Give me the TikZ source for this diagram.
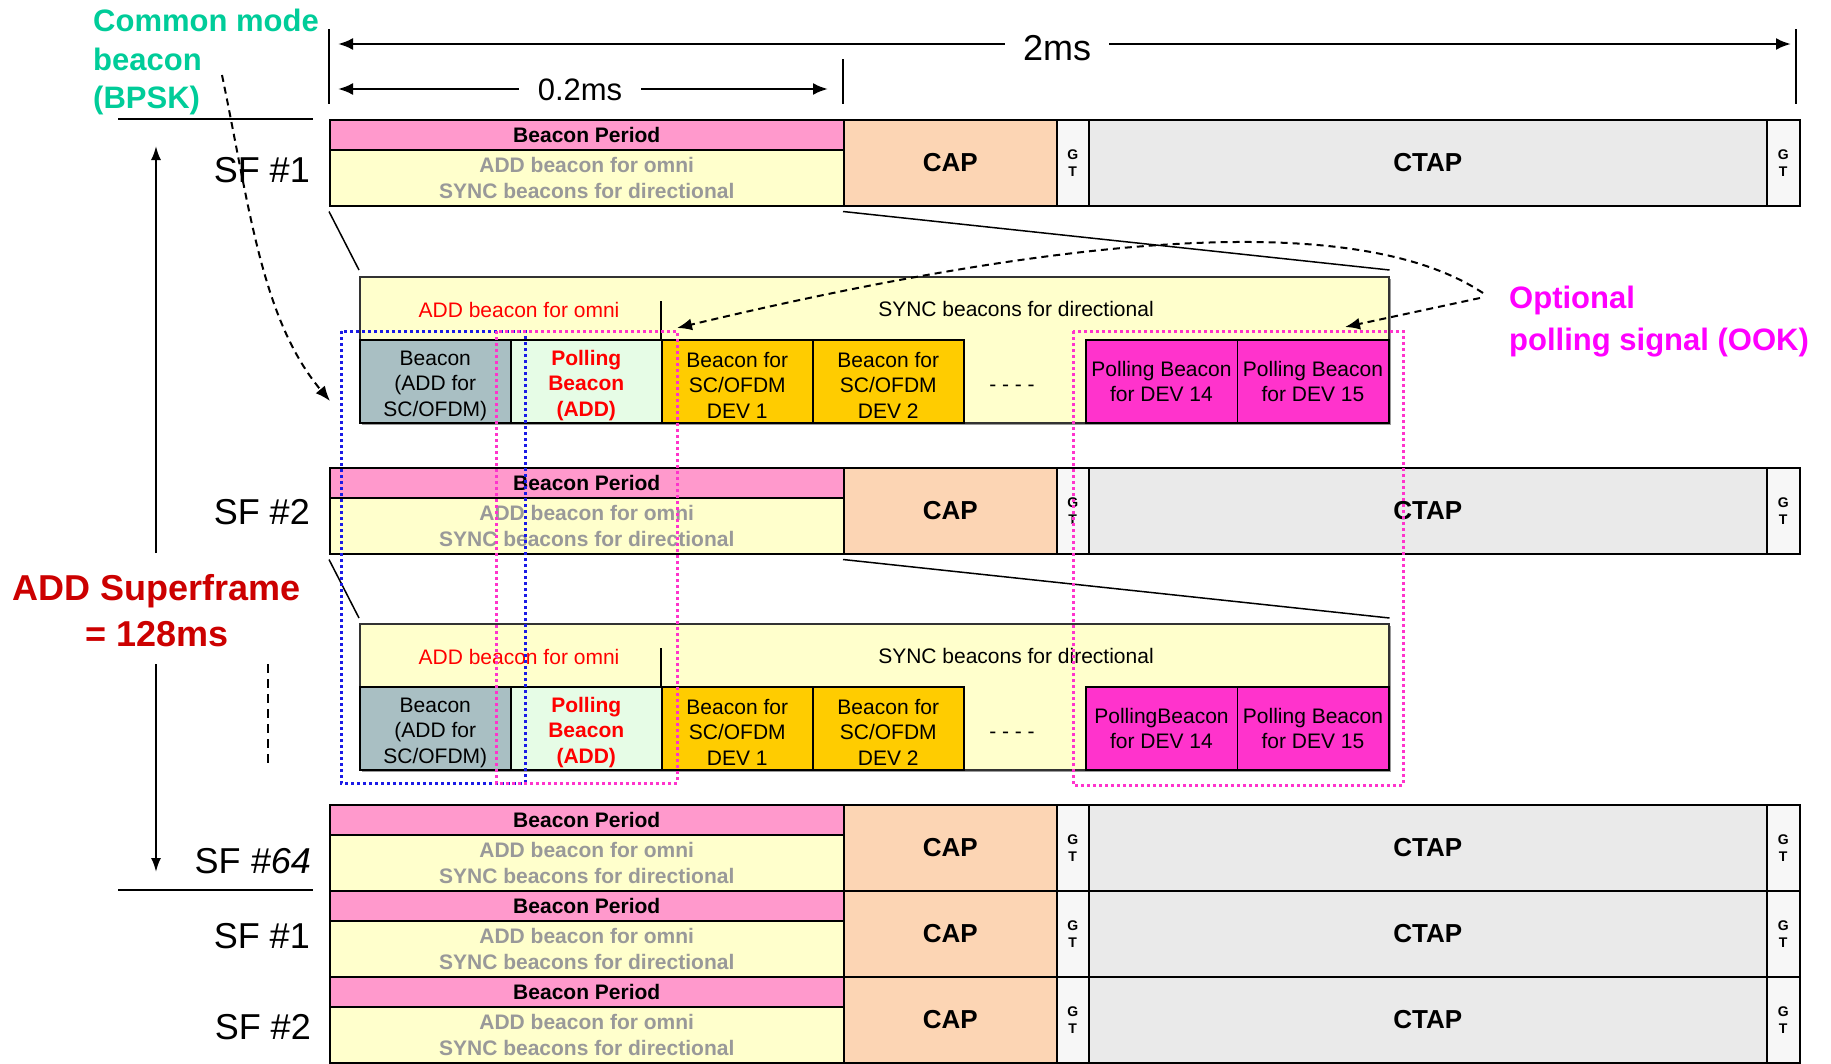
\documentclass[tikz,border=0pt]{standalone}
\usepackage{fontspec}
\setmainfont{Liberation Sans}
\usetikzlibrary{arrows.meta}

\definecolor{bppink}{HTML}{FF99CC}
\definecolor{bpyellow}{HTML}{FFFFCC}
\definecolor{cappeach}{HTML}{FCD5B4}
\definecolor{gtwhite}{HTML}{F7F7F7}
\definecolor{ctapgray}{HTML}{EAEAEA}
\definecolor{txtgray}{HTML}{999999}
\definecolor{addgray}{HTML}{A9BFC3}
\definecolor{pollgreen}{HTML}{E6FCE6}
\definecolor{devorange}{HTML}{FFCC00}
\definecolor{devmagenta}{HTML}{FF33CC}
\definecolor{addred}{HTML}{FF0000}
\definecolor{cmteal}{HTML}{00CC99}
\definecolor{sfred}{HTML}{CC0000}
\definecolor{optmagenta}{HTML}{FF00FF}
\definecolor{shadowgray}{HTML}{999999}
\definecolor{dotblue}{HTML}{1A1AE6}
\definecolor{dotpink}{HTML}{FF33CC}

% pushes a three-line cell text a little down
\newcommand\lowstrut{\rule{0pt}{23pt}}

\tikzset{
  slot/.style={draw=black, line width=1.5pt, anchor=north west, inner sep=0pt, align=center},
  subbox/.style={draw=black!80, line width=1.5pt, fill=bpyellow, anchor=north west, inner sep=0pt},
  bold21/.style={font=\fontsize{21}{25.5}\selectfont\bfseries},
  reg21/.style={font=\fontsize{21}{25.5}\selectfont},
  bold26/.style={font=\fontsize{26}{30}\selectfont\bfseries},
  gtfont/.style={font=\fontsize{14}{17}\selectfont\bfseries},
  sffont/.style={font=\fontsize{36}{40}\selectfont, anchor=east, inner sep=0pt},
  dimarrow/.style={line width=2.5pt, -{Latex[length=15pt,width=12pt]}},
  sfarrow/.style={line width=2pt, -{Latex[length=14pt,width=10pt]}},
  dasharrow/.style={line width=2pt, dash pattern=on 7pt off 5pt, -{Latex[length=15pt,width=12pt]}},
  bluedot/.style={draw=dotblue, line width=3pt, dash pattern=on 3pt off 3pt},
  pinkdot/.style={draw=dotpink, line width=3pt, dash pattern=on 3pt off 3pt}
}

\begin{document}
\begin{tikzpicture}[x=1pt, y=-1pt]
  \useasboundingbox (0,0) rectangle (1831,1063);
  % superframe rows
  \foreach \rowy/\n in {119/1,467/2,804/3,890/4,976/5} {
    \node[slot, fill=bppink, minimum width=514pt, minimum height=30pt, bold21] (bp\n) at (329,\rowy) {Beacon Period};
    \node[slot, fill=bpyellow, minimum width=514pt, minimum height=56pt, bold21, text=txtgray] (bpy\n) at (329,\rowy+30) {ADD beacon for omni\\SYNC beacons for directional};
    \node[slot, fill=cappeach, minimum width=213pt, minimum height=86pt, bold26] (cap\n) at (843,\rowy) {CAP};
    \node[slot, fill=gtwhite, minimum width=32pt, minimum height=86pt, gtfont] (gta\n) at (1056,\rowy) {G\\T};
    \node[slot, fill=ctapgray, minimum width=678pt, minimum height=86pt, bold26] (ctap\n) at (1088,\rowy) {CTAP};
    \node[slot, fill=gtwhite, minimum width=33pt, minimum height=86pt, gtfont] (gtb\n) at (1766,\rowy) {G\\T};
  }
  % row labels
  \node[sffont] (sf1) at (310,170) {SF \#1};
  \node[sffont] (sf2) at (310,512) {SF \#2};
  \node[sffont] (sf64) at (311,861) {SF \textit{\#64}};
  \node[sffont] (sf1b) at (310,936) {SF \#1};
  \node[sffont] (sf2b) at (311,1027) {SF \#2};
  % expanded beacon periods
  \foreach \n/\rowy/\p in {1/276/{Polling Beacon},2/623/{PollingBeacon}} {
    \fill[shadowgray] (362,\rowy+3) rectangle (1391,\rowy+149);
    \node[subbox, minimum width=1029pt, minimum height=146pt] (sub\n) at (359,\rowy) {};
    \node[reg21, text=addred] (omni\n) at (519,\rowy+34) {ADD beacon for omni};
    \node[reg21] (sync\n) at (1016,\rowy+33) {SYNC beacons for directional};
    \node[slot, fill=addgray, minimum width=151pt, minimum height=83pt, reg21] (cmb\n) at (359,\rowy+63) {\lowstrut Beacon\\(ADD for\\SC/OFDM)};
    \node[slot, fill=pollgreen, minimum width=151pt, minimum height=83pt, bold21, text=addred] (poll\n) at (510,\rowy+63) {\lowstrut Polling\\Beacon\\(ADD)};
    \node[slot, fill=devorange, minimum width=151pt, minimum height=83pt, reg21] (deva\n) at (661,\rowy+63) {\lowstrut Beacon for\\SC/OFDM\\DEV 1};
    \node[slot, fill=devorange, minimum width=151pt, minimum height=83pt, reg21] (devb\n) at (812,\rowy+63) {\lowstrut Beacon for\\SC/OFDM\\DEV 2};
    \node[reg21] (gap\n) at (1012,\rowy+112) {- - - -};
    \node[slot, fill=devmagenta, minimum width=151.5pt, minimum height=83pt, reg21] (devn\n) at (1085,\rowy+63) {\p\\for DEV 14};
    \node[slot, fill=devmagenta, minimum width=151.5pt, minimum height=83pt, reg21] (devo\n) at (1236.5,\rowy+63) {Polling Beacon\\for DEV 15};
    \draw[line width=1.5pt] (deva\n.north west) -- ++(0,-38);
  }
  \draw[line width=1.5pt] ([yshift=-5pt]bpy1.south west) -- ([yshift=6pt]sub1.north west);
  \draw[line width=1.5pt] ([yshift=-5pt]cap1.south west) -- ([yshift=6pt]sub1.north east);
  \draw[line width=1.5pt] ([yshift=-5pt]bpy2.south west) -- ([yshift=5pt]sub2.north west);
  \draw[line width=1.5pt] ([yshift=-5pt]cap2.south west) -- ([yshift=5pt]sub2.north east);
  % dotted groups
  \draw[bluedot] (341,331) rectangle (525,783);
  \draw[pinkdot] (496,331) rectangle (677,783);
  \draw[pinkdot] (1073,331) rectangle (1403,785);
  % durations
  \draw[line width=1.5pt] (329,29) -- (329,104);
  \draw[line width=1.5pt] (1796,29) -- (1796,104);
  \draw[line width=1.5pt] (843,59) -- (843,104);
  \node[font=\fontsize{36}{40}\selectfont, inner xsep=18pt] (twoms) at (1057,48) {2ms};
  \coordinate (twoL) at (338,44);
  \coordinate (twoR) at (1791,44);
  \draw[dimarrow] (twoms.west |- twoL) -- (twoL);
  \draw[dimarrow] (twoms.east |- twoR) -- (twoR);
  \node[font=\fontsize{31}{36}\selectfont, inner xsep=19pt] (ptwoms) at (580,90) {0.2ms};
  \coordinate (ptwoL) at (338,89);
  \coordinate (ptwoR) at (828,89);
  \draw[dimarrow] (ptwoms.west |- ptwoL) -- (ptwoL);
  \draw[dimarrow] (ptwoms.east |- ptwoR) -- (ptwoR);
  % superframe span
  \draw[line width=2pt] (118,119) -- (313,119);
  \draw[line width=2pt] (118,890) -- (313,890);
  \node[font=\fontsize{36}{46}\selectfont\bfseries, text=sfred, align=center] (adds) at (157,611) {ADD Superframe\\= 128ms};
  \coordinate (upbase) at (156,553);
  \coordinate (uptip) at (156,146);
  \coordinate (downbase) at (156,664);
  \coordinate (downtip) at (156,872);
  \draw[sfarrow] (upbase) -- (uptip);
  \draw[sfarrow] (downbase) -- (downtip);
  \draw[line width=2pt, dash pattern=on 9pt off 6pt] (268,664) -- (268,768);
  % callouts
  \node[font=\fontsize{31}{38.5}\selectfont\bfseries, text=cmteal, align=left, anchor=west, inner sep=0pt] (cmlabel) at (93,62) {Common mode\\beacon\\(BPSK)};
  \coordinate (cmstart) at (222,75);
  \coordinate (cmend) at (330,401);
  \draw[dasharrow] (cmstart) .. controls (250,210) and (262,320) .. (cmend);
  \node[font=\fontsize{31}{42}\selectfont\bfseries, text=optmagenta, align=left, anchor=west, inner sep=0pt] (optlabel) at (1509,322) {Optional\\polling signal (OOK)};
  \coordinate (optA) at (1483,293);
  \coordinate (optB) at (1480,298);
  \coordinate (pollA) at (677,328);
  \coordinate (pollB) at (1345,327);
  \draw[dasharrow] (optA) .. controls (1380,225) and (1150,215) .. (pollA);
  \draw[dasharrow] (optB) -- (pollB);
\end{tikzpicture}
\end{document}
